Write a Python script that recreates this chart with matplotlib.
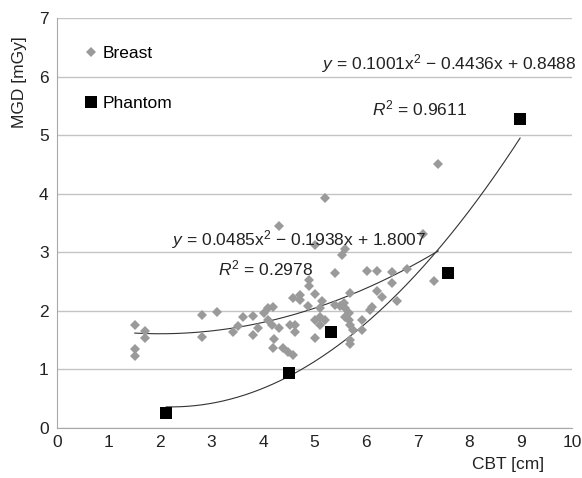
import numpy as np
import matplotlib
matplotlib.use('Agg')
import matplotlib.pyplot as plt

plt.rcParams['font.family'] = ['Liberation Sans', 'DejaVu Sans']
plt.rcParams['mathtext.fontset'] = 'custom'
plt.rcParams['mathtext.rm'] = 'Liberation Sans'
plt.rcParams['mathtext.it'] = 'Liberation Sans:italic'

# Breast measurements (CBT cm, MGD mGy)
breast_cbt = [1.51, 1.71, 1.71, 1.51, 1.51, 2.81, 3.10, 2.81, 3.41, 3.51,
              3.61, 3.81, 3.81, 3.91, 4.01, 4.10, 4.20, 4.10, 4.17, 4.30,
              4.22, 4.20, 4.39, 4.49, 4.59, 4.52, 4.62, 4.62, 4.30, 4.59,
              4.72, 4.72, 4.90, 4.90, 4.88, 5.01, 5.20, 5.01, 5.14, 5.11,
              5.01, 5.11, 5.20, 5.11, 5.00, 5.40, 5.53, 5.60, 5.40, 5.50,
              5.58, 5.59, 5.66, 5.59, 5.66, 5.69, 5.75, 5.69, 5.69, 5.69,
              5.92, 5.92, 6.01, 6.21, 6.50, 6.79, 6.50, 7.31, 6.21, 6.30,
              6.11, 6.08, 6.60, 7.11, 7.40]
breast_mgd = [1.75, 1.66, 1.53, 1.35, 1.22, 1.92, 1.98, 1.55, 1.64, 1.74,
              1.89, 1.91, 1.59, 1.70, 1.96, 2.04, 2.07, 1.84, 1.76, 1.70,
              1.52, 1.37, 1.36, 1.30, 1.24, 1.76, 1.76, 1.64, 3.44, 2.21,
              2.27, 2.18, 2.53, 2.42, 2.08, 3.12, 3.92, 2.29, 2.16, 2.04,
              1.85, 1.90, 1.84, 1.76, 1.53, 2.64, 2.95, 3.06, 2.10, 2.08,
              2.13, 2.04, 1.96, 1.90, 1.84, 1.76, 1.67, 2.30, 1.50, 1.43,
              1.84, 1.67, 2.68, 2.68, 2.67, 2.72, 2.47, 2.51, 2.33, 2.24,
              2.07, 2.01, 2.17, 3.31, 4.50]

# Phantom measurements
phantom_cbt = [2.12, 4.50, 5.31, 7.60, 8.99]
phantom_mgd = [0.25, 0.93, 1.64, 2.64, 5.27]

# Trendline coefficients (a, b, c) as printed on the chart
breast_coef = [0.0485, -0.1938, 1.8007]
phantom_coef = [0.1001, -0.4436, 0.8488]
breast_r2 = 0.2978
phantom_r2 = 0.9611

FS = 12.5
TXT = '#222222'

fig = plt.figure(figsize=(5.82, 4.78), dpi=100)
ax = fig.add_axes([0.098, 0.105, 0.885, 0.857])

ax.set_xlim(0, 10)
ax.set_ylim(0, 7)
ax.set_xticks(range(0, 11))
ax.set_yticks(range(0, 8))
ax.yaxis.grid(True, color='#c4c4c4', lw=1)
ax.set_axisbelow(True)
for s in ['top', 'right']:
    ax.spines[s].set_visible(False)
for s in ['left', 'bottom']:
    ax.spines[s].set_color('#a8a8a8')
ax.tick_params(length=0, labelsize=FS, colors=TXT)
ax.tick_params(axis='x', pad=5)
ax.tick_params(axis='y', pad=6)

# Trendlines
xb = np.linspace(min(breast_cbt), max(breast_cbt), 200)
ax.plot(xb, np.polyval(breast_coef, xb), color='#333333', lw=0.8)
xp = np.linspace(min(phantom_cbt), max(phantom_cbt), 200)
ax.plot(xp, np.polyval(phantom_coef, xp), color='#333333', lw=0.8)

ax.plot(breast_cbt, breast_mgd, 'D', color='#9a9a9a', ms=5.2, mew=0,
        label='Breast')
ax.plot(phantom_cbt, phantom_mgd, 's', color='black', ms=8.3, mew=0,
        label='Phantom')

ax.legend(loc='upper left', bbox_to_anchor=(0.04, 0.95), frameon=False,
          fontsize=FS, labelspacing=2.0, handlelength=0.7,
          handletextpad=0.35, borderaxespad=0)


def eq_text(c):
    return (r'$y$ = %.4fx$^2$ $-$ %.4fx + %.4f'
            % (c[0], abs(c[1]), c[2]))


ax.text(0.515, 0.89, eq_text(phantom_coef), transform=ax.transAxes,
        fontsize=FS, va='center', color=TXT)
ax.text(0.612, 0.78, r'$R^2$ = %.4f' % phantom_r2, transform=ax.transAxes,
        fontsize=FS, va='center', color=TXT)
ax.text(0.223, 0.459, eq_text(breast_coef), transform=ax.transAxes,
        fontsize=FS, va='center', color=TXT)
ax.text(0.313, 0.39, r'$R^2$ = %.4f' % breast_r2, transform=ax.transAxes,
        fontsize=FS, va='center', color=TXT)

ax.set_ylabel('MGD [mGy]', fontsize=FS, color=TXT)
ax.yaxis.set_label_coords(-0.058, 0.845)
ax.set_xlabel('CBT [cm]', fontsize=FS, color=TXT)
ax.xaxis.set_label_coords(0.876, -0.072)

fig.savefig('out.png', dpi=100)
